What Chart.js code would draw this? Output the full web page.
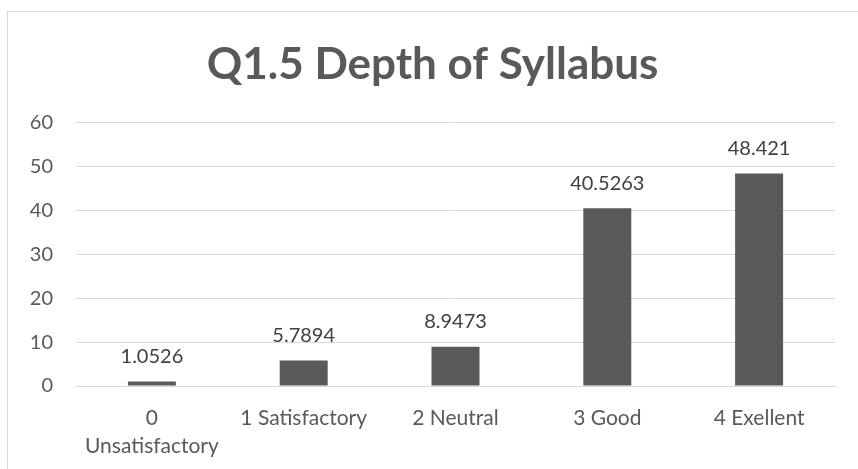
<!DOCTYPE html>
<html>
<head>
<meta charset="utf-8">
<script src="https://cdn.jsdelivr.net/npm/chart.js@4.4.1/dist/chart.umd.min.js"></script>
<style>
  html, body { margin: 0; padding: 0; background: #fff; }
  #wrap { position: relative; width: 858px; height: 469px; overflow: hidden; }
  #frame { position: absolute; left: 7px; top: 11px; width: 900px; height: 500px;
           border: 1px solid #d9d9d9; box-sizing: border-box; pointer-events: none; }
  canvas { position: absolute; left: 0; top: 0; }
</style>
</head>
<body>
<div id="wrap">
  <canvas id="chart" width="858" height="469"></canvas>
  <div id="frame"></div>
</div>
<script>
// chart data
const categories = [['0', 'Unsatisfactory'], '1 Satisfactory', '2 Neutral', '3 Good', '4 Exellent'];
const values = [1.0526, 5.7894, 8.9473, 40.5263, 48.421];
const yTicks = [0, 10, 20, 30, 40, 50, 60];

const FONT = 'Lato, "Open Sans", sans-serif';

// value labels above each bar
const barLabels = {
  id: 'barLabels',
  afterDatasetsDraw(chart) {
    const ctx = chart.ctx;
    const meta = chart.getDatasetMeta(0);
    ctx.save();
    ctx.font = '20px ' + FONT;
    ctx.fillStyle = '#404040';
    ctx.textAlign = 'center';
    ctx.textBaseline = 'middle';
    meta.data.forEach((bar, i) => {
      ctx.fillText(String(values[i]), bar.x, bar.y - 25);
    });
    ctx.restore();
  }
};

new Chart(document.getElementById('chart'), {
  type: 'bar',
  data: {
    labels: categories,
    datasets: [{
      data: values,
      backgroundColor: '#595959',
      categoryPercentage: 1,
      barPercentage: 0.316
    }]
  },
  options: {
    responsive: false,
    animation: false,
    // left padding nudges the title centre right, like the reference
    layout: { padding: { left: 30, right: 23, top: 0, bottom: 0 } },
    plugins: {
      legend: { display: false },
      tooltip: { enabled: false },
      title: {
        display: true,
        text: 'Q1.5 Depth of Syllabus',
        color: '#595959',
        font: { family: FONT, size: 44, weight: 'bold', lineHeight: 1.2 },
        padding: { top: 38, bottom: 32 }
      }
    },
    scales: {
      x: {
        grid: { display: false, drawTicks: false },
        border: { color: '#d9d9d9', width: 1 },
        ticks: {
          color: '#595959',
          font: { family: FONT, size: 21, lineHeight: 1.35 },
          padding: 18,
          maxRotation: 0,
          autoSkip: false
        },
        afterFit(scale) { scale.height = 83; }
      },
      y: {
        min: 0,
        max: 60,
        afterBuildTicks(scale) { scale.ticks = yTicks.map(v => ({ value: v })); },
        grid: { color: '#d9d9d9', drawTicks: false },
        border: { display: false },
        ticks: {
          color: '#595959',
          font: { family: FONT, size: 20 },
          padding: 23
        },
        afterFit(scale) { scale.width = 46; }
      }
    }
  },
  plugins: [barLabels]
});
</script>
</body>
</html>
